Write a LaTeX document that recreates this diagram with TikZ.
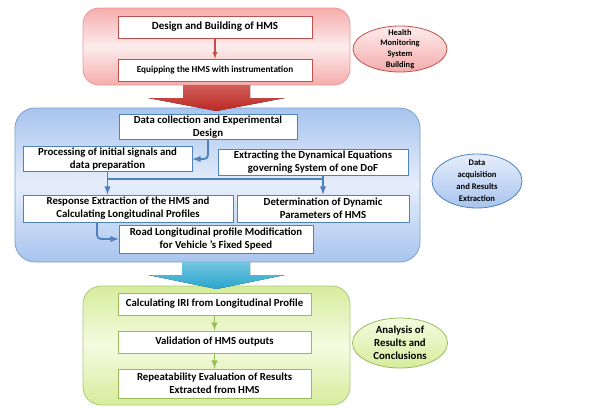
\documentclass[tikz,border=0pt]{standalone}
\usepackage{fontspec}
\setmainfont{Carlito}
\usetikzlibrary{calc,shapes.geometric}
\definecolor{redline}{RGB}{192,80,77}
\definecolor{blueline}{RGB}{79,129,189}
\definecolor{greenline}{RGB}{155,187,89}
\definecolor{redpale}{RGB}{253,236,236}
\definecolor{redmid}{RGB}{245,172,172}
\definecolor{bluepale}{RGB}{230,238,251}
\definecolor{bluemid}{RGB}{168,196,238}
\definecolor{greenpale}{RGB}{245,251,225}
\definecolor{greenmid}{RGB}{214,236,156}
\definecolor{arrowred}{RGB}{190,40,34}
\definecolor{arrowcyan}{RGB}{40,166,206}
\begin{document}
\begin{tikzpicture}[x=1pt, y=-1pt, font=\bfseries\fontsize{10.8}{13}\selectfont, >=latex,
          panel/.style={draw, line width=0.8pt, inner sep=0pt},
          stage/.style={draw, fill=white, line width=0.8pt, align=center, inner sep=1pt},
          tag/.style={ellipse, draw, line width=0.8pt, align=center, inner xsep=0pt, inner ysep=-8pt,
            font=\bfseries\fontsize{8.4}{10.8}\selectfont},
          redbox/.style={stage, draw=redline},
          bluebox/.style={stage, draw=blueline},
          greenbox/.style={stage, draw=greenline},
          flow/.style={->, line width=1.8pt, rounded corners=4pt}]
        \useasboundingbox (0,0) rectangle (609,407);
        % building of the system
        \node[panel, rounded corners=16pt, draw=redmid!80!redline, top color=redmid, bottom color=redmid, middle color=redpale,
              minimum width=267pt, minimum height=77pt] (build) at (216.5,46.5) {};
        \node[redbox, minimum width=194pt, minimum height=22pt, font=\bfseries\fontsize{11}{13}\selectfont] (design) at (215,27) {Design and Building of HMS};
        \node[redbox, minimum width=194pt, minimum height=22pt, font=\bfseries\fontsize{9.2}{11}\selectfont] (equip) at (215,70) {Equipping the HMS with instrumentation};
        \node[tag, draw=redline, top color=redpale, bottom color=redmid, minimum width=94pt, minimum height=46pt] (buildtag) at (400,49) {Health\\Monitoring\\System\\Building};
        \draw[->, redline, line width=1.2pt] (design) -- (equip);
        % data acquisition
        \node[panel, rounded corners=20pt, draw=blueline!75, top color=bluemid, bottom color=bluemid, middle color=bluepale,
              minimum width=405pt, minimum height=154pt] (acq) at (217.5,185) {};
        \fill[top color=arrowred!75, bottom color=arrowred] (183,85) -- (250,85) -- (250,98) -- (285,98) -- (216.5,111) -- (148,98) -- (183,98) -- cycle;
        \node[bluebox, minimum width=178pt, minimum height=24pt] (collect) at (208,127) {Data collection and Experimental\\Design};
        \node[bluebox, minimum width=169pt, minimum height=24pt] (process) at (107.5,159) {Processing of initial signals and\\data preparation};
        \node[bluebox, minimum width=190pt, minimum height=26pt] (extract) at (313,162) {Extracting the Dynamical Equations\\governing System of one DoF};
        \node[bluebox, minimum width=210pt, minimum height=27pt] (response) at (128,208.5) {Response Extraction of the HMS and\\Calculating Longitudinal Profiles};
        \node[bluebox, minimum width=172pt, minimum height=27pt] (dynpar) at (323,208.5) {Determination of Dynamic\\Parameters of HMS};
        \node[bluebox, minimum width=194pt, minimum height=28pt] (road) at (216,239) {Road Longitudinal profile Modification\\for Vehicle 's Fixed Speed};
        \node[tag, draw=blueline, top color=bluepale, bottom color=bluemid, minimum width=90pt, minimum height=54pt,
              font=\bfseries\fontsize{8.6}{12}\selectfont] (acqtag) at (477,181) {Data\\acquisition\\and Results\\Extraction};
        \coordinate (joinl) at (process.south |- 0,179);
        \coordinate (joinr) at (dynpar.north |- 0,179);
        \coordinate (respout) at ($(response.south)+(-31,0)$);
        \draw[flow, blueline] (collect.south) |- (process.east);
        \draw[flow, blueline] (process.south) -- (process.south |- response.north);
        \draw[flow, blueline] (dynpar.north |- extract.south) -- (dynpar.north);
        \draw[line width=1.8pt, blueline] (joinl) -- (joinr);
        \draw[flow, blueline] (respout) |- (road.west);
        % analysis of results
        \node[panel, rounded corners=18pt, draw=greenline!80, top color=greenmid, bottom color=greenmid, middle color=greenpale,
              minimum width=267pt, minimum height=119pt] (analysis) at (216.5,345.5) {};
        \fill[top color=arrowcyan!65, bottom color=arrowcyan] (182,262) -- (250,262) -- (250,275) -- (285,275) -- (216.5,289) -- (148,275) -- (182,275) -- cycle;
        \node[greenbox, minimum width=193pt, minimum height=22pt] (iri) at (214.5,304) {Calculating IRI from Longitudinal Profile};
        \node[greenbox, minimum width=193pt, minimum height=22pt] (valid) at (214.5,342) {Validation of HMS outputs};
        \node[greenbox, minimum width=193pt, minimum height=29pt] (repeat) at (214.5,383.5) {Repeatability Evaluation of Results\\Extracted from HMS};
        \node[tag, draw=greenline, top color=greenpale, bottom color=greenmid, minimum width=95pt, minimum height=50pt,
              inner ysep=-4pt, font=\bfseries\fontsize{10.8}{13}\selectfont] (analysistag) at (400,343) {Analysis of\\Results and\\Conclusions};
        \draw[flow, greenline] (iri) -- (valid);
        \draw[flow, greenline] (valid) -- (repeat);
      \end{tikzpicture}
\end{document}
